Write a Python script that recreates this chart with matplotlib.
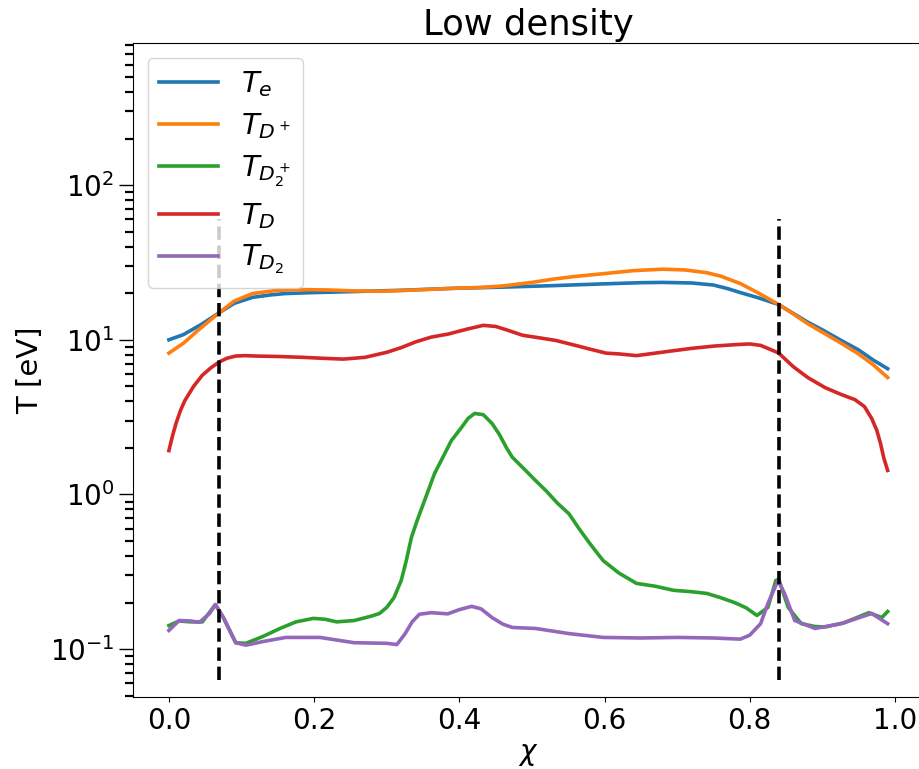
import matplotlib
matplotlib.use('Agg')
import matplotlib.pyplot as plt
import numpy as np

# values (chi, temperature in eV)
chi_e = [0.0, 0.02, 0.045, 0.0695, 0.09, 0.115, 0.14, 0.16, 0.2, 0.255, 0.32, 0.39, 0.46, 0.53, 0.6, 0.65, 0.68, 0.72, 0.75, 0.77, 0.787, 0.81, 0.84, 0.86, 0.88, 0.90, 0.926, 0.95, 0.97, 0.99]
T_e = [10.0, 10.8, 12.6, 15.0, 17.2, 18.8, 19.5, 19.9, 20.2, 20.5, 20.9, 21.5, 21.9, 22.4, 23.0, 23.4, 23.5, 23.3, 22.6, 21.4, 20.2, 18.8, 16.9, 14.8, 13.0, 11.6, 9.9, 8.6, 7.4, 6.5]

chi_dp = [0.0, 0.02, 0.04, 0.0695, 0.09, 0.115, 0.15, 0.185, 0.22, 0.255, 0.29, 0.32, 0.36, 0.40, 0.43, 0.46, 0.50, 0.53, 0.56, 0.6, 0.64, 0.68, 0.71, 0.74, 0.76, 0.787, 0.81, 0.84, 0.86, 0.88, 0.90, 0.926, 0.95, 0.97, 0.99]
T_dp = [8.2, 9.5, 11.5, 15.0, 17.8, 19.9, 20.9, 21.1, 21.0, 20.7, 20.6, 20.8, 21.2, 21.6, 21.8, 22.3, 23.5, 24.7, 25.7, 26.8, 28.0, 28.6, 28.3, 27.2, 25.8, 23.1, 20.3, 16.9, 14.7, 12.7, 11.2, 9.5, 8.1, 6.9, 5.7]

chi_d2p = [0.0, 0.014, 0.03, 0.046, 0.064, 0.075, 0.092, 0.106, 0.13, 0.153, 0.175, 0.199, 0.215, 0.231, 0.255, 0.278, 0.29, 0.30, 0.31, 0.32, 0.327, 0.334, 0.342, 0.352, 0.366, 0.38, 0.389, 0.403, 0.412, 0.421, 0.433, 0.445, 0.455, 0.465, 0.473, 0.49, 0.505, 0.52, 0.535, 0.551, 0.565, 0.58, 0.598, 0.62, 0.644, 0.67, 0.695, 0.72, 0.741, 0.76, 0.779, 0.795, 0.81, 0.825, 0.836, 0.84, 0.853, 0.871, 0.89, 0.904, 0.93, 0.964, 0.982, 0.99]
T_d2p = [0.142, 0.152, 0.150, 0.150, 0.194, 0.160, 0.110, 0.109, 0.121, 0.136, 0.150, 0.158, 0.156, 0.150, 0.153, 0.163, 0.170, 0.186, 0.215, 0.278, 0.374, 0.527, 0.68, 0.91, 1.37, 1.84, 2.23, 2.71, 3.1, 3.34, 3.28, 2.88, 2.45, 2.0, 1.74, 1.45, 1.23, 1.05, 0.88, 0.75, 0.60, 0.48, 0.374, 0.31, 0.266, 0.255, 0.24, 0.235, 0.229, 0.215, 0.20, 0.185, 0.165, 0.186, 0.278, 0.282, 0.186, 0.146, 0.140, 0.139, 0.148, 0.172, 0.160, 0.175]

chi_d = [0.0, 0.005, 0.01, 0.016, 0.022, 0.034, 0.046, 0.058, 0.0695, 0.08, 0.092, 0.105, 0.12, 0.15, 0.185, 0.21, 0.24, 0.27, 0.30, 0.32, 0.34, 0.361, 0.385, 0.41, 0.433, 0.45, 0.465, 0.487, 0.51, 0.533, 0.56, 0.58, 0.602, 0.62, 0.644, 0.67, 0.695, 0.72, 0.75, 0.78, 0.80, 0.815, 0.83, 0.84, 0.86, 0.88, 0.904, 0.925, 0.945, 0.958, 0.968, 0.975, 0.98, 0.985, 0.99]
T_d = [1.92, 2.4, 2.9, 3.5, 4.05, 5.0, 5.9, 6.6, 7.2, 7.6, 7.85, 7.9, 7.85, 7.8, 7.7, 7.6, 7.5, 7.7, 8.3, 8.9, 9.7, 10.4, 10.9, 11.7, 12.4, 12.2, 11.6, 10.7, 10.3, 9.9, 9.2, 8.7, 8.2, 8.1, 7.9, 8.2, 8.5, 8.8, 9.1, 9.3, 9.4, 9.2, 8.6, 8.2, 6.7, 5.7, 4.9, 4.45, 4.1, 3.7, 3.1, 2.6, 2.15, 1.7, 1.43]

chi_d2 = [0.0, 0.014, 0.03, 0.042, 0.056, 0.064, 0.075, 0.092, 0.106, 0.13, 0.161, 0.208, 0.255, 0.30, 0.314, 0.325, 0.335, 0.345, 0.361, 0.384, 0.40, 0.417, 0.43, 0.445, 0.46, 0.473, 0.505, 0.551, 0.598, 0.65, 0.70, 0.75, 0.787, 0.80, 0.815, 0.825, 0.839, 0.848, 0.862, 0.89, 0.926, 0.968, 0.99]
T_d2 = [0.132, 0.153, 0.152, 0.149, 0.170, 0.194, 0.160, 0.110, 0.106, 0.112, 0.119, 0.119, 0.110, 0.109, 0.107, 0.125, 0.150, 0.168, 0.172, 0.169, 0.180, 0.189, 0.182, 0.160, 0.145, 0.138, 0.136, 0.126, 0.119, 0.118, 0.119, 0.118, 0.116, 0.123, 0.146, 0.197, 0.278, 0.229, 0.153, 0.136, 0.146, 0.170, 0.146]

x_sep = [0.0695, 0.84]

labels = [r'$T_e$', r'$T_{D^+}$', r'$T_{D_2^+}$', r'$T_D$', r'$T_{D_2}$']

fig = plt.figure(figsize=(9.19, 7.69), dpi=100)
ax = fig.add_axes([0.1447, 0.0936, 0.8603, 0.8505])

for x, y, l in [(chi_e, T_e, labels[0]), (chi_dp, T_dp, labels[1]),
                (chi_d2p, T_d2p, labels[2]), (chi_d, T_d, labels[3]),
                (chi_d2, T_d2, labels[4])]:
    ax.plot(x, y, lw=2.6, label=l)

ax.vlines(x_sep, 0.063, 60, colors='k', linestyles='--', lw=2.6)

ax.set_yscale('log')
ax.set_ylim(0.049, 830)
ax.set_xlim(-0.0495, 1.0395)
ax.set_xticks([0.0, 0.2, 0.4, 0.6, 0.8, 1.0])
ax.tick_params(axis='both', which='major', labelsize=20)
ax.tick_params(axis='y', which='major', length=10, width=1)
ax.tick_params(axis='y', which='minor', length=6, width=1.6)
ax.set_xlabel(r'$\chi$', fontsize=20)
ax.set_ylabel('T [eV]', fontsize=21)
ax.set_title('Low density', fontsize=25.5)
ax.legend(loc=2, fontsize=21, labelspacing=0.42)

fig.savefig('out.png', dpi=100)
